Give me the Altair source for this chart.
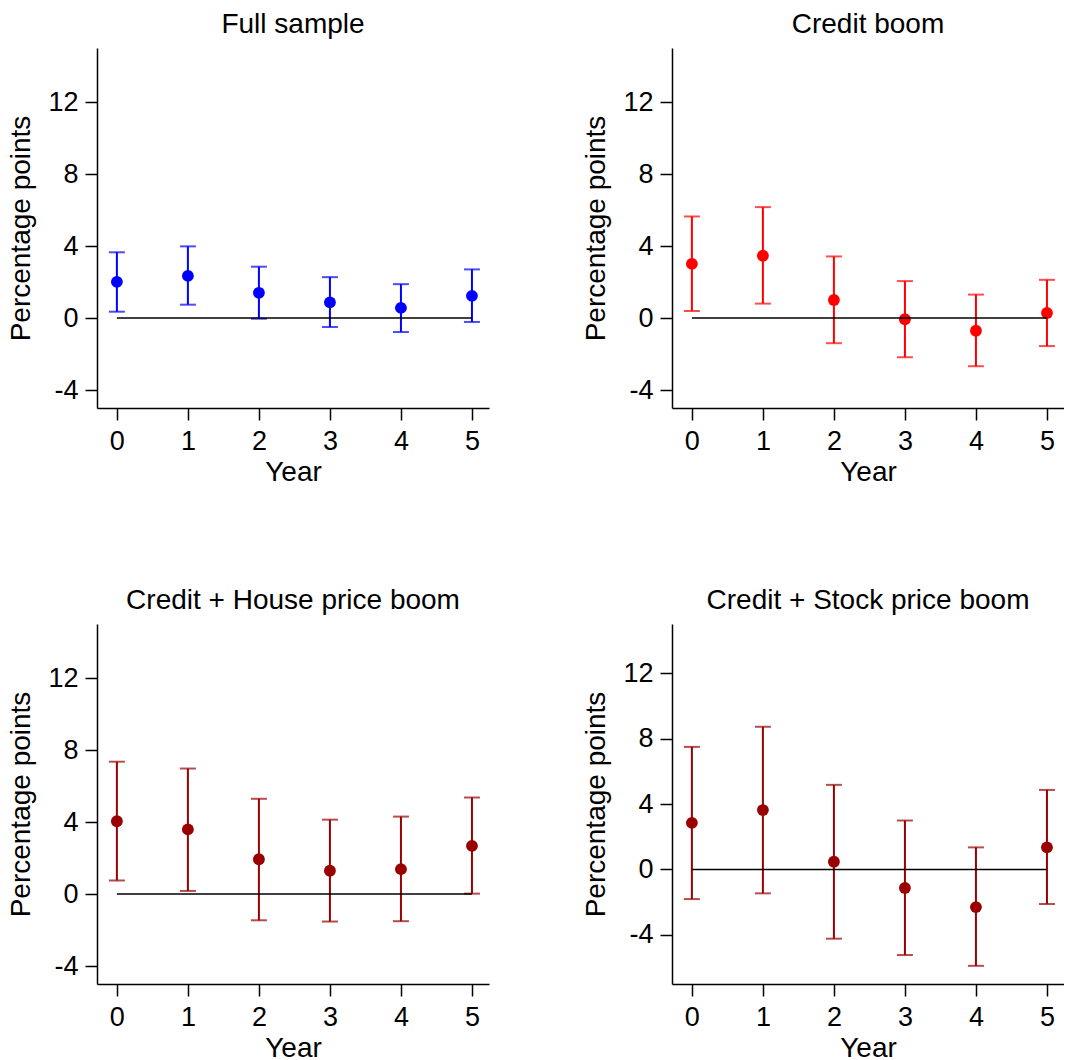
import altair as alt
import pandas as pd

years = [0, 1, 2, 3, 4, 5]

full_est = [2.01, 2.34, 1.40, 0.87, 0.56, 1.23]
full_lo = [0.35, 0.74, -0.04, -0.50, -0.78, -0.22]
full_hi = [3.65, 3.98, 2.85, 2.27, 1.88, 2.70]

credit_est = [3.01, 3.46, 1.00, -0.07, -0.71, 0.28]
credit_lo = [0.39, 0.80, -1.40, -2.18, -2.68, -1.56]
credit_hi = [5.64, 6.16, 3.42, 2.05, 1.30, 2.12]

house_est = [4.04, 3.59, 1.93, 1.29, 1.38, 2.67]
house_lo = [0.75, 0.17, -1.46, -1.53, -1.51, 0.02]
house_hi = [7.35, 6.97, 5.29, 4.13, 4.30, 5.36]

stock_est = [2.85, 3.63, 0.47, -1.13, -2.30, 1.35]
stock_lo = [-1.81, -1.46, -4.23, -5.23, -5.89, -2.11]
stock_hi = [7.49, 8.72, 5.17, 2.99, 1.35, 4.86]

y_ticks = [-4, 0, 4, 8, 12]
FONT = "Liberation Sans"
W, H = 392, 360


def panel(title, est, lo, hi, color, ymin):
    df = pd.DataFrame({"year": years, "est": est, "lo": lo, "hi": hi})
    xs = alt.Scale(domain=[-0.28, 5.24], nice=False, zero=False)
    ys = alt.Scale(domain=[ymin, 15], nice=False, zero=False)
    xax = alt.Axis(values=years, title="Year", format="d")
    yax = alt.Axis(
        values=y_ticks,
        title="Percentage points",
        labelExpr="replace(datum.label, '\u2212', '-')",
    )
    base = alt.Chart(df)
    bars = base.mark_rule(color=color, strokeWidth=2).encode(
        x=alt.X("year:Q", scale=xs, axis=xax),
        y=alt.Y("lo:Q", scale=ys, axis=yax),
        y2="hi:Q",
    )
    cap_lo = base.mark_tick(orient="horizontal", size=16, thickness=2, color=color).encode(
        x=alt.X("year:Q", scale=xs), y=alt.Y("lo:Q", scale=ys)
    )
    cap_hi = base.mark_tick(orient="horizontal", size=16, thickness=2, color=color).encode(
        x=alt.X("year:Q", scale=xs), y=alt.Y("hi:Q", scale=ys)
    )
    pts = base.mark_circle(size=140, color=color, opacity=1).encode(
        x=alt.X("year:Q", scale=xs), y=alt.Y("est:Q", scale=ys)
    )
    zdf = pd.DataFrame({"x": [years[0]], "x2": [years[-1]], "y": [0]})
    zero = alt.Chart(zdf).mark_rule(color="black", strokeWidth=1.5).encode(
        x=alt.X("x:Q", scale=xs), x2="x2:Q", y=alt.Y("y:Q", scale=ys)
    )
    return alt.layer(bars, cap_lo, cap_hi, pts, zero).properties(
        width=W,
        height=H,
        title=alt.TitleParams(
            text=title,
            font=FONT,
            fontSize=28,
            fontWeight="normal",
            color="black",
            anchor="middle",
            frame="group",
            baseline="alphabetic",
            offset=-13,
        ),
    )


p1 = panel("Full sample", full_est, full_lo, full_hi, "#0000ff", -5)
p2 = panel("Credit boom", credit_est, credit_lo, credit_hi, "#ff0000", -5)
p3 = panel("Credit + House price boom", house_est, house_lo, house_hi, "#990000", -5)
p4 = panel("Credit + Stock price boom", stock_est, stock_lo, stock_hi, "#990000", -7)

chart = alt.vconcat(
    alt.hconcat(p1, p2, spacing=93),
    alt.hconcat(p3, p4, spacing=93),
    spacing=101,
).properties(
    padding={"left": 7, "top": 11, "right": 0, "bottom": 0}
).configure_view(stroke=None).configure_axis(
    grid=False,
    domainColor="black",
    domainWidth=1.5,
    tickColor="black",
    tickWidth=1.5,
    tickSize=12,
    labelFont=FONT,
    labelFontSize=27,
    labelColor="black",
    titleFont=FONT,
    titleFontSize=28,
    titleFontWeight="normal",
    titleColor="black",
).configure_axisY(
    labelPadding=7, titlePadding=12
).configure_axisX(
    labelPadding=8, titlePadding=4
)

chart.save("out.html", embed_options={"renderer": "svg", "actions": False})
